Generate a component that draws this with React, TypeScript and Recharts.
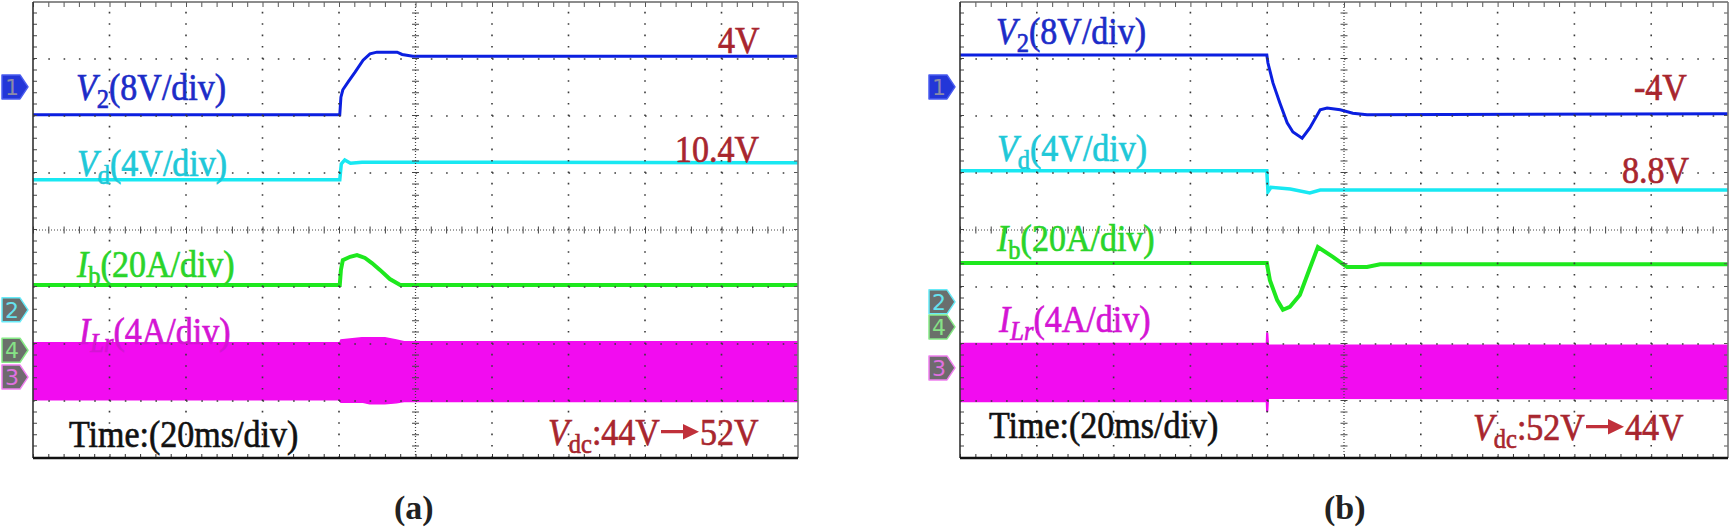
import React from "react";
import { ComposedChart, Line, Area, XAxis, YAxis, ReferenceLine, ReferenceDot } from "recharts";

// scope screen: 10 x 8 divisions. x = time in ms (20 ms/div), y = divisions from screen centre
const MAJOR_X = [20, 40, 60, 80, 120, 140, 160, 180];
const MAJOR_Y = [-3, -2, -1, 1, 2, 3];

// (a) Vdc: 44V -> 52V
const v2aT = [0, 80.2, 80.5, 81, 82.4, 84.2, 86.3, 88.1, 89.9, 95.2, 96.5, 99.3, 200];
const v2aV = [2.02, 2.02, 2.33, 2.46, 2.6, 2.77, 2.98, 3.09, 3.12, 3.12, 3.08, 3.05, 3.05];
const vdaT = [0, 80.2, 80.6, 81.5, 83, 86, 200];
const vdaV = [0.88, 0.88, 1.16, 1.23, 1.17, 1.19, 1.18];
const ibaT = [0, 80.2, 80.5, 81, 82.9, 84.7, 86.8, 88.6, 90.7, 93.3, 96, 200];
const ibaV = [-0.965, -0.965, -0.7, -0.53, -0.47, -0.44, -0.49, -0.58, -0.7, -0.86, -0.965, -0.965];
const ilraT = [0, 80.2, 80.5, 86, 88, 92, 95, 97, 200];
const ilraLo = [-2.98, -2.98, -3.02, -3.02, -3.05, -3.05, -3.03, -3.01, -3.01];
const ilraHi = [-1.98, -1.98, -1.93, -1.89, -1.89, -1.89, -1.93, -1.96, -1.96];
const tagsA = [
  { ch: "1", y: 2.51 },
  { ch: "2", y: -1.4 },
  { ch: "4", y: -2.11 },
  { ch: "3", y: -2.58 },
];

// (b) Vdc: 52V -> 44V
const v2bT = [0, 79.9, 80.2, 81.5, 83.3, 85.2, 86.7, 89.1, 91.1, 93.8, 95.6, 99, 102.3, 106, 200];
const v2bV = [3.07, 3.07, 2.93, 2.58, 2.23, 1.88, 1.72, 1.61, 1.79, 2.11, 2.14, 2.11, 2.05, 2.02, 2.04];
const vdbT = [0, 79.9, 80.2, 81, 86, 91.1, 93.8, 200];
const vdbV = [1.04, 1.04, 0.67, 0.75, 0.72, 0.65, 0.7, 0.7];
const ibbT = [0, 79.9, 80.7, 82.6, 84.1, 85.9, 88.5, 91.1, 93.2, 97.1, 100.8, 106, 109.4, 200];
const ibbV = [-0.58, -0.58, -0.88, -1.23, -1.4, -1.35, -1.14, -0.67, -0.3, -0.47, -0.65, -0.65, -0.6, -0.6];
const ilrbT = [0, 79.8, 79.9, 80.1, 80.3, 200];
const ilrbLo = [-3.01, -3.01, -3.18, -3.18, -2.95, -2.96];
const ilrbHi = [-1.99, -1.99, -1.81, -1.81, -2.02, -2.02];
const tagsB = [
  { ch: "1", y: 2.51 },
  { ch: "2", y: -1.26 },
  { ch: "4", y: -1.7 },
  { ch: "3", y: -2.42 },
];

const C_V2 = "#0b1fe0";
const C_VD = "#18e8f2";
const C_IB = "#1ee81e";
const C_ILR = "#f20cf0";
const RED = "#a8262e";
const SERIF = '"Liberation Serif", "Times New Roman", serif';
const PLOT_H = 456;

const TAG_STYLE: Record<string, { fill: string; stroke: string; text: string }> = {
  "1": { fill: "#2336d8", stroke: "#4a5cf0", text: "#8a8aa8" },
  "2": { fill: "#6a6e6e", stroke: "#66eaf8", text: "#66e2f0" },
  "4": { fill: "#6a706a", stroke: "#86ea86", text: "#86e286" },
  "3": { fill: "#6e6a6e", stroke: "#f080f0", text: "#e070e0" },
};

const zip = (t: number[], v: number[]) => t.map((x, i) => ({ t: x, v: v[i] }));
const band = (t: number[], lo: number[], hi: number[]) => t.map((x, i) => ({ t: x, r: [lo[i], hi[i]] }));

function Tag({ cx, cy, ch }: { cx: number; cy: number; ch: string }) {
  const s = TAG_STYLE[ch];
  const l = cx - 31;
  const pts = `${l},${cy - 12} ${cx - 13},${cy - 12} ${cx - 5},${cy} ${cx - 13},${cy + 12} ${l},${cy + 12}`;
  return (
    <g>
      <polygon points={pts} fill={s.fill} stroke={s.stroke} strokeWidth={1.5} strokeLinejoin="round" />
      <text x={cx - 21} y={cy + 8} textAnchor="middle" fontSize={22} fontFamily='"DejaVu Sans", sans-serif' fill={s.text}>
        {ch}
      </text>
    </g>
  );
}

type ScopeProps = {
  left: number;
  width: number;
  marginLeft: number;
  plotW: number;
  traces: { data: { t: number; v: number }[]; color: string; w: number }[];
  env: { t: number; r: number[] }[];
  tags: { ch: string; y: number }[];
};

function Scope({ left, width, marginLeft, plotW, traces, env, tags }: ScopeProps) {
  const ax = { xAxisId: "b", yAxisId: "l" };
  const hStep = plotW / 50; // minor step along x, px
  const vStep = PLOT_H / 40; // minor step along y, px
  const dx = (px: number) => (px / plotW) * 200; // px -> ms
  const dy = (px: number) => (px / PLOT_H) * 8; // px -> div
  const hDash = `1.6 ${hStep - 1.6}`;
  const vDash = `1.6 ${vStep - 1.6}`;
  return (
    <div style={{ position: "absolute", left, top: 0 }}>
      <ComposedChart width={width} height={462} margin={{ top: 2, right: 2, bottom: 4, left: marginLeft }}>
        <XAxis xAxisId="b" dataKey="t" type="number" domain={[0, 200]} hide allowDataOverflow />
        <YAxis yAxisId="l" type="number" domain={[-4, 4]} hide allowDataOverflow />

        <Area {...ax} data={env} dataKey="r" type="linear" stroke={C_ILR} strokeWidth={1.5} fill={C_ILR} fillOpacity={1} isAnimationActive={false} dot={false} activeDot={false} />
        {traces.map((tr, i) => (
          <Line key={i} {...ax} data={tr.data} dataKey="v" type="linear" stroke={tr.color} strokeWidth={tr.w} dot={false} activeDot={false} isAnimationActive={false} />
        ))}

        {MAJOR_X.map((x) => (
          <ReferenceLine key={`vx${x}`} {...ax} x={x} stroke="#3a3a3a" strokeWidth={1.6} strokeDasharray={vDash} />
        ))}
        {MAJOR_Y.map((y) => (
          <ReferenceLine key={`hy${y}`} {...ax} y={y} stroke="#3a3a3a" strokeWidth={1.6} strokeDasharray={hDash} />
        ))}
        {/* centre axes: dense dots plus minor cross ticks */}
        <ReferenceLine {...ax} x={100} stroke="#444" strokeWidth={1.2} strokeDasharray="1 2" />
        <ReferenceLine {...ax} x={100} stroke="#444" strokeWidth={7} strokeDasharray={`1 ${vStep - 1}`} />
        <ReferenceLine {...ax} y={0} stroke="#444" strokeWidth={1.2} strokeDasharray="1 2" />
        <ReferenceLine {...ax} y={0} stroke="#444" strokeWidth={7} strokeDasharray={`1 ${hStep - 1}`} />

        {/* frame with inward minor ticks */}
        <ReferenceLine {...ax} y={4 - dy(2.5)} stroke="#555" strokeWidth={5} strokeDasharray={`1 ${hStep - 1}`} />
        <ReferenceLine {...ax} y={-4 + dy(2)} stroke="#333" strokeWidth={4} strokeDasharray={`1 ${hStep - 1}`} />
        <ReferenceLine {...ax} x={dx(2)} stroke="#444" strokeWidth={4} strokeDasharray={`1 ${vStep - 1}`} />
        <ReferenceLine {...ax} x={200 - dx(2)} stroke="#555" strokeWidth={4} strokeDasharray={`1 ${vStep - 1}`} />
        <ReferenceLine {...ax} y={4} stroke="#666" strokeWidth={1.3} />
        <ReferenceLine {...ax} x={0} stroke="#333" strokeWidth={1.6} />
        <ReferenceLine {...ax} x={200} stroke="#777" strokeWidth={1.6} />
        <ReferenceLine {...ax} y={-4} stroke="#111" strokeWidth={2.6} />

        {tags.map((tg) => (
          <ReferenceDot key={tg.ch} {...ax} x={0} y={tg.y} r={0} ifOverflow="visible" shape={(p: any) => <Tag cx={p.cx} cy={p.cy} ch={tg.ch} />} />
        ))}
      </ComposedChart>
    </div>
  );
}

function Txt({ x, y, color, children, size = 34, bold = false }: { x: number; y: number; color: string; children: React.ReactNode; size?: number; bold?: boolean }) {
  return (
    <div
      style={{
        position: "absolute",
        left: x,
        top: y,
        color,
        fontSize: size,
        lineHeight: `${size}px`,
        fontFamily: SERIF,
        fontWeight: bold ? 700 : 400,
        whiteSpace: "nowrap",
        WebkitTextStroke: bold ? undefined : `0.6px ${color}`,
        transform: bold ? undefined : "scaleY(1.1)",
        transformOrigin: `0 ${Math.round(size * 0.84)}px`,
      }}
    >
      {children}
    </div>
  );
}

const Sub = ({ children, italic = false }: { children: React.ReactNode; italic?: boolean }) => (
  <span style={{ fontSize: "0.72em", position: "relative", top: "0.28em", fontStyle: italic ? "italic" : "normal" }}>{children}</span>
);
const I = ({ children }: { children: React.ReactNode }) => <span style={{ fontStyle: "italic" }}>{children}</span>;

const Arrow = () => (
  <svg width={38} height={16} style={{ verticalAlign: 4, margin: "0 1px" }}>
    <line x1={0} y1={8} x2={24} y2={8} stroke="#c0303a" strokeWidth={3} />
    <polygon points="22,1 38,8 22,15" fill="#c0303a" />
  </svg>
);

function Labels({ dx, v2y, vdy, iby, ilry, timey, vdcx, vdcy, v2Val, vdVal, vdcFrom, vdcTo }: any) {
  return (
    <>
      <Txt x={dx + v2Val.x} y={v2Val.y} color={RED}>{v2Val.s}</Txt>
      <Txt x={dx + vdVal.x} y={vdVal.y} color={RED}>{vdVal.s}</Txt>
      <Txt x={dx + 76} y={v2y} color="#1c2cc8">
        <I>V</I>
        <Sub>2</Sub>(8V/div)
      </Txt>
      <Txt x={dx + 77} y={vdy} color="#20c8d8">
        <I>V</I>
        <Sub>d</Sub>(4V/div)
      </Txt>
      <Txt x={dx + 77} y={iby} color="#2ad42a">
        <I>I</I>
        <Sub>b</Sub>(20A/div)
      </Txt>
      <Txt x={dx + 79} y={ilry} color="#d414d4">
        <I>I</I>
        <Sub italic>Lr</Sub>(4A/div)
      </Txt>
      <Txt x={dx + 69} y={timey} color="#111">Time:(20ms/div)</Txt>
      <Txt x={vdcx} y={vdcy} color={RED}>
        <I>V</I>
        <Sub>dc</Sub>:{vdcFrom}
        <Arrow />
        {vdcTo}
      </Txt>
    </>
  );
}

export default function App() {
  const tracesA = [
    { data: zip(v2aT, v2aV), color: C_V2, w: 3 },
    { data: zip(vdaT, vdaV), color: C_VD, w: 3.5 },
    { data: zip(ibaT, ibaV), color: C_IB, w: 4 },
  ];
  const tracesB = [
    { data: zip(v2bT, v2bV), color: C_V2, w: 3 },
    { data: zip(vdbT, vdbV), color: C_VD, w: 3.5 },
    { data: zip(ibbT, ibbV), color: C_IB, w: 4 },
  ];
  return (
    <div style={{ position: "absolute", left: 0, top: 0, width: 1732, height: 532, background: "#fff", overflow: "hidden" }}>
      <Scope left={0} width={800} marginLeft={33} plotW={765} traces={tracesA} env={band(ilraT, ilraLo, ilraHi)} tags={tagsA} />
      <Scope left={900} width={830} marginLeft={60} plotW={768} traces={tracesB} env={band(ilrbT, ilrbLo, ilrbHi)} tags={tagsB} />

      <Labels dx={0} v2y={72} vdy={148} iby={249} ilry={316} timey={419} vdcx={548} vdcy={417} v2Val={{ x: 718, y: 25, s: "4V" }} vdVal={{ x: 675, y: 134, s: "10.4V" }} vdcFrom="44V" vdcTo="52V" />
      <Labels dx={920} v2y={16} vdy={133} iby={223} ilry={304} timey={410} vdcx={1473} vdcy={412} v2Val={{ x: 714, y: 72, s: "-4V" }} vdVal={{ x: 702, y: 155, s: "8.8V" }} vdcFrom="52V" vdcTo="44V" />

      <Txt x={394} y={491} color="#222" size={34} bold>(a)</Txt>
      <Txt x={1324} y={491} color="#222" size={34} bold>(b)</Txt>
    </div>
  );
}
